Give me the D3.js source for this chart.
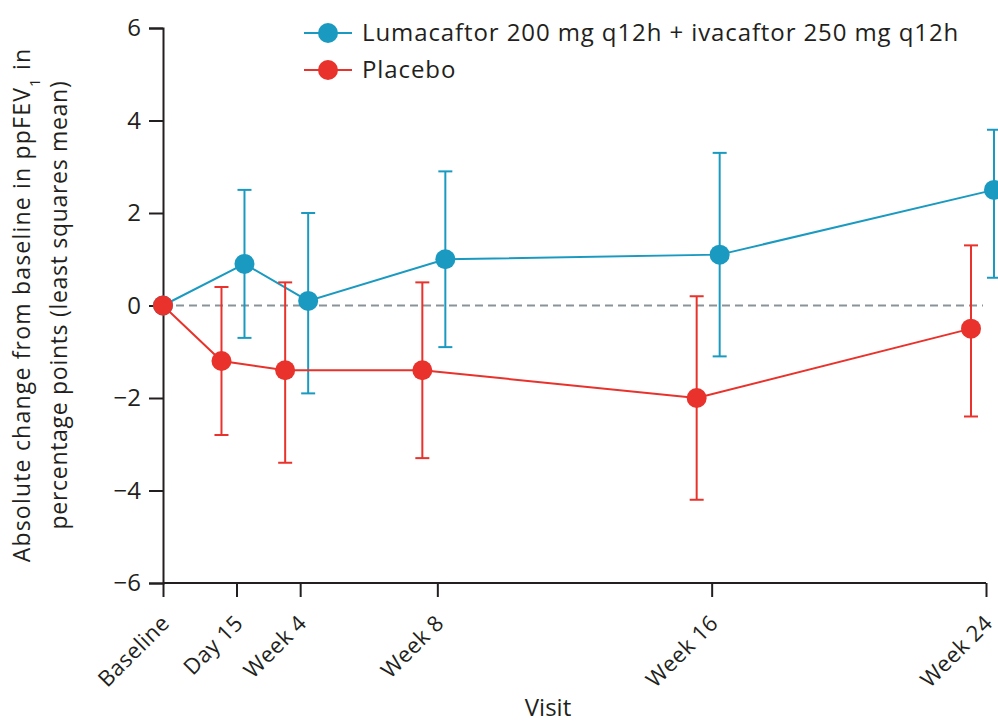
<!DOCTYPE html>
<html>
<head>
<meta charset="utf-8">
<script src="https://cdn.jsdelivr.net/npm/d3@7"></script>
<style>
  body { margin: 0; background: #fff; }
  text { font-family: "Open Sans", "Noto Sans", sans-serif; fill: #231f20; }
</style>
</head>
<body>
<div id="chart"></div>
<script>
const visits = ["Baseline", "Day 15", "Week 4", "Week 8", "Week 16", "Week 24"];
const visitDays = [0, 15, 28, 56, 112, 168];

const lumaMean = [0, 0.9, 0.1, 1.0, 1.1, 2.5];
const lumaLower = [0, -0.7, -1.9, -0.9, -1.1, 0.6];
const lumaUpper = [0, 2.5, 2.0, 2.9, 3.3, 3.8];

const placeboMean = [0, -1.2, -1.4, -1.4, -2.0, -0.5];
const placeboLower = [0, -2.8, -3.4, -3.3, -4.2, -2.4];
const placeboUpper = [0, 0.4, 0.5, 0.5, 0.2, 1.3];

const yTicks = [-6, -4, -2, 0, 2, 4, 6];

const WIDTH = 998, HEIGHT = 722;
const MARGIN = { top: 28, right: 12, bottom: 139, left: 163 };
const W = WIDTH - MARGIN.left - MARGIN.right;
const H = HEIGHT - MARGIN.top - MARGIN.bottom;

const series = [
  { name: "Lumacaftor 200 mg q12h + ivacaftor 250 mg q12h", color: "#1a9ac0", dodge: 8,
    mean: lumaMean, lower: lumaLower, upper: lumaUpper },
  { name: "Placebo", color: "#e8322b", dodge: -15,
    mean: placeboMean, lower: placeboLower, upper: placeboUpper },
];

const svg = d3.select("#chart").append("svg")
  .attr("width", WIDTH).attr("height", HEIGHT);
const g = svg.append("g").attr("transform", `translate(${MARGIN.left},${MARGIN.top})`);

const x = d3.scaleLinear().domain([0, 168]).range([0, W]);
const y = d3.scaleLinear().domain([-6, 6]).range([H, 0]);

// zero reference line
g.append("line")
  .attr("x1", x(0)).attr("x2", x(168) - 3)
  .attr("y1", y(0)).attr("y2", y(0))
  .attr("stroke", "#8a9399").attr("stroke-width", 2)
  .attr("stroke-dasharray", "8,5");

// y axis
const yAxis = g.append("g")
  .call(d3.axisLeft(y).tickValues(yTicks).tickSize(14).tickPadding(8)
    .tickFormat(d => d < 0 ? "\u2212" + Math.abs(d) : d));
yAxis.select(".domain").attr("stroke", "#231f20").attr("stroke-width", 2);
yAxis.selectAll(".tick line").attr("stroke", "#231f20").attr("stroke-width", 2);
yAxis.selectAll(".tick text").style("font-size", "24px").attr("fill", "#231f20");

// x axis
const xAxis = g.append("g")
  .attr("transform", `translate(0,${H})`)
  .call(d3.axisBottom(x).tickValues(visitDays).tickSize(14).tickSizeOuter(0)
    .tickFormat((d, i) => visits[i]));
xAxis.select(".domain").attr("stroke", "#231f20").attr("stroke-width", 2)
  .attr("d", `M0,0H${x(168)}`);
xAxis.selectAll(".tick line").attr("stroke", "#231f20").attr("stroke-width", 2);
xAxis.selectAll(".tick text")
  .style("font-size", "22px").style("letter-spacing", "0.5px")
  .attr("fill", "#231f20")
  .attr("text-anchor", "end")
  .attr("x", 0).attr("y", 0).attr("dy", "0.35em")
  .attr("transform", "translate(2,36) rotate(-45)");

// axis titles
svg.append("text")
  .attr("x", 548).attr("y", 716)
  .attr("text-anchor", "middle")
  .style("font-size", "24px")
  .text("Visit");

const yTitle = svg.append("text")
  .attr("transform", "translate(0,305) rotate(-90)")
  .attr("text-anchor", "middle")
  .style("font-size", "23px");
const l1 = yTitle.append("tspan").attr("x", 0).attr("y", 30)
  .style("letter-spacing", "1.2px");
l1.append("tspan").text("Absolute change from baseline in ppFEV");
l1.append("tspan").attr("baseline-shift", "sub").style("font-size", "15px").text("1");
l1.append("tspan").text(" in");
yTitle.append("tspan").attr("x", 0).attr("y", 67)
  .style("letter-spacing", "0.7px")
  .text("percentage points (least squares mean)");

// series
const xPos = (s, i) => x(visitDays[i]) + (i === 0 ? 0 : s.dodge);
const line = d3.line();

series.forEach((s) => {
  const sg = g.append("g");
  const pts = s.mean.map((m, i) => [xPos(s, i), y(m)]);
  sg.append("path").attr("d", line(pts))
    .attr("fill", "none").attr("stroke", s.color).attr("stroke-width", 2);

  s.mean.forEach((m, i) => {
    if (s.lower[i] === s.upper[i]) return;
    const cx = xPos(s, i);
    sg.append("line")
      .attr("x1", cx).attr("x2", cx)
      .attr("y1", y(s.lower[i])).attr("y2", y(s.upper[i]))
      .attr("stroke", s.color).attr("stroke-width", 2);
    [s.lower[i], s.upper[i]].forEach((v) => {
      sg.append("line")
        .attr("x1", cx - 7).attr("x2", cx + 7)
        .attr("y1", y(v)).attr("y2", y(v))
        .attr("stroke", s.color).attr("stroke-width", 2);
    });
  });

  sg.selectAll("circle").data(s.mean).enter().append("circle")
    .attr("cx", (d, i) => xPos(s, i))
    .attr("cy", (d) => y(d))
    .attr("r", 10)
    .attr("fill", s.color);
});

// legend
const legend = svg.append("g").attr("transform", "translate(304,33)");
series.forEach((s, i) => {
  const row = legend.append("g").attr("transform", `translate(0,${i * 37})`);
  row.append("line").attr("x1", 0).attr("x2", 48)
    .attr("stroke", s.color).attr("stroke-width", 2);
  row.append("circle").attr("cx", 24).attr("r", 10).attr("fill", s.color);
  row.append("text").attr("x", 58).attr("dy", "0.35em")
    .style("font-size", "24px").style("letter-spacing", "0.9px").text(s.name);
});
</script>
</body>
</html>
